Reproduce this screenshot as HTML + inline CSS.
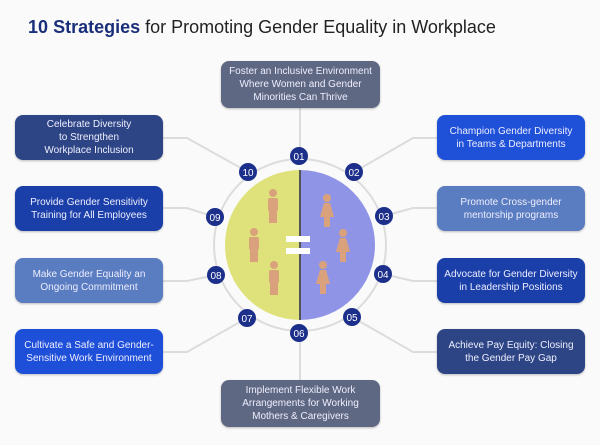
<!DOCTYPE html>
<html><head><meta charset="utf-8"><style>
body{margin:0;width:600px;height:445px;background:#fafafa;font-family:"Liberation Sans",sans-serif;overflow:hidden;position:relative}
.t{position:absolute;top:17px;left:0;width:524px;text-align:center;font-size:18px;color:#222}
.t b{color:#1a2f7a}
.bx{position:absolute;border-radius:8px;color:#eef;font-size:10px;line-height:13px;text-align:center;display:flex;align-items:center;justify-content:center;box-shadow:0 1px 2px rgba(0,0,0,.25)}
</style></head><body>
<div class="t"><b>10 Strategies</b> for Promoting Gender Equality in Workplace</div>
<svg width="600" height="445" style="position:absolute;left:0;top:0">
<g stroke="#dcdcdc" stroke-width="2" fill="none">
<circle cx="300" cy="245" r="86"/>
<line x1="300" y1="108" x2="300" y2="156"/>
<line x1="300" y1="333" x2="300" y2="380"/>
<polyline points="163,138 187,138 248,172"/>
<polyline points="163,208 187,208 215,217"/>
<polyline points="163,281 187,281 216,275"/>
<polyline points="163,352 187,352 247,318"/>
<polyline points="437,138 413,138 354,172"/>
<polyline points="437,208 413,208 384,216"/>
<polyline points="437,281 413,281 383,274"/>
<polyline points="437,352 413,352 352,317"/>
</g>
<path d="M300,170 A75,75 0 0 0 300,320 Z" fill="#dfe27a"/>
<path d="M300,170 A75,75 0 0 1 300,320 Z" fill="#8f94e6"/>
<line x1="300" y1="170" x2="300" y2="320" stroke="#555" stroke-width="2"/>
<rect x="286" y="236" width="24" height="6" fill="#fff"/>
<rect x="286" y="248" width="24" height="6" fill="#fff"/>
<g fill="#d9a27c">
<g transform="translate(273,193)"><circle cx="0" cy="0" r="4"/><rect x="-5" y="5" width="10" height="13" rx="2"/><rect x="-4" y="17" width="8" height="13"/></g>
<g transform="translate(254,232)"><circle cx="0" cy="0" r="4"/><rect x="-5" y="5" width="10" height="13" rx="2"/><rect x="-4" y="17" width="8" height="13"/></g>
<g transform="translate(274,265)"><circle cx="0" cy="0" r="4"/><rect x="-5" y="5" width="10" height="13" rx="2"/><rect x="-4" y="17" width="8" height="13"/></g>
<g transform="translate(327,198)"><circle cx="0" cy="0" r="4"/><path d="M-3,5 L3,5 L7,19 L-7,19Z"/><rect x="-3" y="18" width="6" height="11"/></g>
<g transform="translate(343,233)"><circle cx="0" cy="0" r="4"/><path d="M-3,5 L3,5 L7,19 L-7,19Z"/><rect x="-3" y="18" width="6" height="11"/></g>
<g transform="translate(323,265)"><circle cx="0" cy="0" r="4"/><path d="M-3,5 L3,5 L7,19 L-7,19Z"/><rect x="-3" y="18" width="6" height="11"/></g>
</g>
<g font-size="10" fill="#fff" text-anchor="middle" font-family="Liberation Sans,sans-serif">
<g fill="#1c2f8a"><circle cx="299" cy="156" r="9"/><circle cx="354" cy="172" r="9"/><circle cx="384" cy="216" r="9"/><circle cx="383" cy="274" r="9"/><circle cx="352" cy="317" r="9"/><circle cx="299" cy="333" r="9"/><circle cx="247" cy="318" r="9"/><circle cx="216" cy="275" r="9"/><circle cx="215" cy="217" r="9"/><circle cx="248" cy="172" r="9"/></g>
<text x="299" y="160">01</text><text x="354" y="176">02</text><text x="384" y="220">03</text><text x="383" y="278">04</text><text x="352" y="321">05</text><text x="299" y="337">06</text><text x="247" y="322">07</text><text x="216" y="279">08</text><text x="215" y="221">09</text><text x="248" y="176">10</text>
</g>
</svg>
<div class="bx" style="left:221px;top:61px;width:159px;height:47px;background:#5f6882">Foster an Inclusive Environment<br>Where Women and Gender<br>Minorities Can Thrive</div>
<div class="bx" style="left:221px;top:380px;width:159px;height:47px;background:#5f6882">Implement Flexible Work<br>Arrangements for Working<br>Mothers &amp; Caregivers</div>
<div class="bx" style="left:15px;top:115px;width:148px;height:45px;background:#2d4584">Celebrate Diversity<br>to Strengthen<br>Workplace Inclusion</div>
<div class="bx" style="left:15px;top:186px;width:148px;height:45px;background:#1a3fa8">Provide Gender Sensitivity<br>Training for All Employees</div>
<div class="bx" style="left:15px;top:258px;width:148px;height:45px;background:#5a7cc0">Make Gender Equality an<br>Ongoing Commitment</div>
<div class="bx" style="left:15px;top:329px;width:148px;height:45px;background:#1e4fd8">Cultivate a Safe and Gender-<br>Sensitive Work Environment</div>
<div class="bx" style="left:437px;top:115px;width:148px;height:45px;background:#1e50d8">Champion Gender Diversity<br>in Teams &amp; Departments</div>
<div class="bx" style="left:437px;top:186px;width:148px;height:45px;background:#5a7cc0">Promote Cross-gender<br>mentorship programs</div>
<div class="bx" style="left:437px;top:258px;width:148px;height:45px;background:#1a3fa8">Advocate for Gender Diversity<br>in Leadership Positions</div>
<div class="bx" style="left:437px;top:329px;width:148px;height:45px;background:#2d4584">Achieve Pay Equity: Closing<br>the Gender Pay Gap</div>
</body></html>
